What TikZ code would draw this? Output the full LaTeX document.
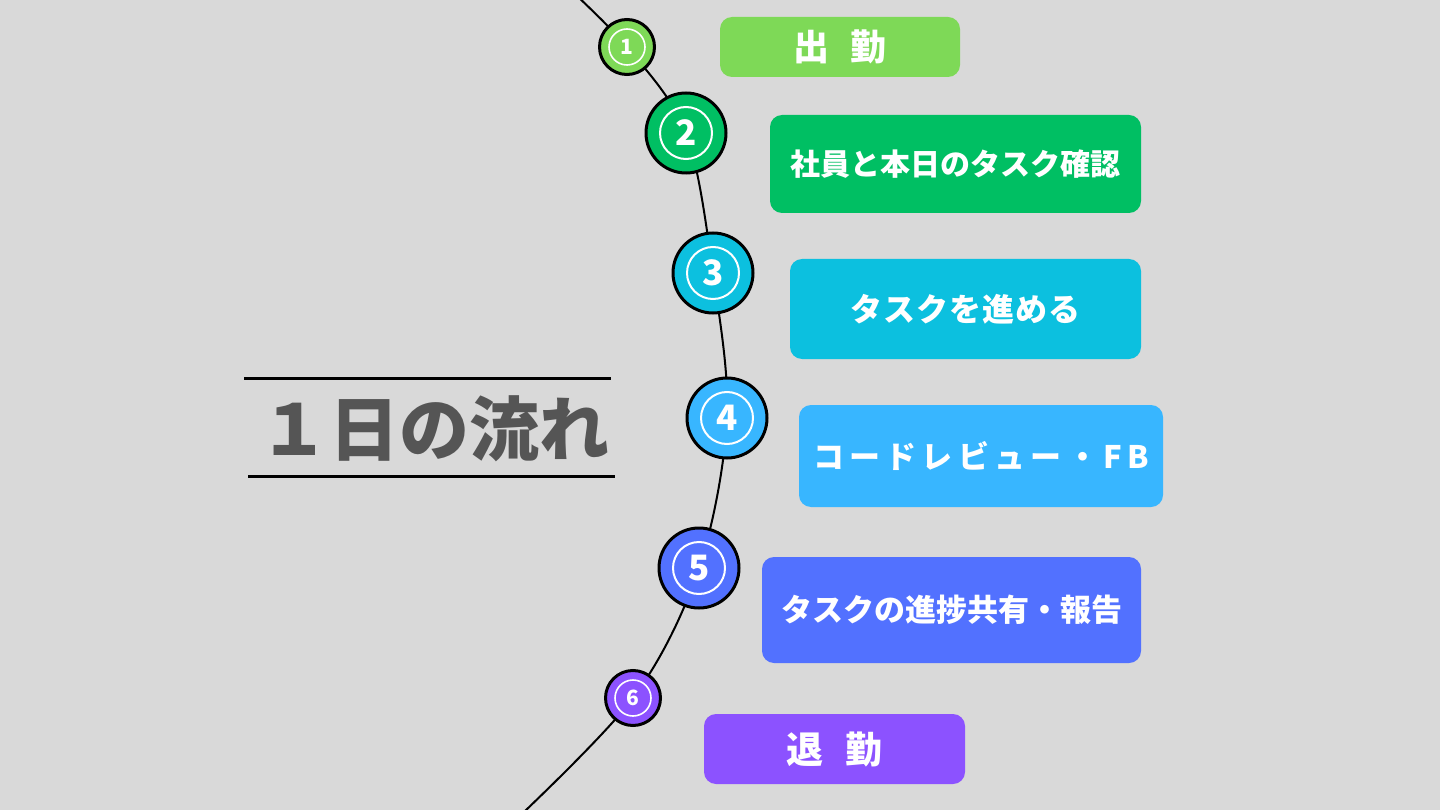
\documentclass[tikz,border=0pt]{standalone}
\usepackage{fontspec}
\setmainfont{Noto Sans CJK JP}
\usetikzlibrary{positioning,backgrounds}
\definecolor{bg}{HTML}{D9D9D9}
\definecolor{titlegray}{HTML}{555555}
\definecolor{cA}{HTML}{7ED957}
\definecolor{cB}{HTML}{00BF63}
\definecolor{cC}{HTML}{0CC0DF}
\definecolor{cD}{HTML}{38B6FF}
\definecolor{cE}{HTML}{5271FF}
\definecolor{cF}{HTML}{8C52FF}

\begin{document}
\begin{tikzpicture}[x=1pt, y=1pt,
  box/.style={rounded corners=12pt, fill=#1, text=white, inner sep=0pt,
    font=\bfseries\fontsize{31}{31}\selectfont},
  numbig/.style={circle, draw=black, line width=3pt, fill=#1, minimum size=80pt,
    inner sep=0pt, text=white, font=\bfseries\fontsize{35}{35}\selectfont,
    path picture={\draw[white, line width=2pt] (path picture bounding box.center) circle[radius=26pt];}},
  numsmall/.style={circle, draw=black, line width=3pt, fill=#1, minimum size=55pt,
    inner sep=0pt, text=white, font=\bfseries\fontsize{21}{21}\selectfont,
    path picture={\draw[white, line width=1.6pt] (path picture bounding box.center) circle[radius=18pt];}},
  flow/.style={line width=2pt}]
\useasboundingbox (0,0) rectangle (1440,-810);

% title
\node[text=titlegray, font=\bfseries\fontsize{70}{70}\selectfont] (title) at (434,-429) {１日の流れ};
\coordinate (ruleA1) at (244,-378);
\coordinate (ruleA2) at (611,-378);
\coordinate (ruleB1) at (248,-476);
\coordinate (ruleB2) at (615,-476);
\draw[line width=3pt] (ruleA1) -- (ruleA2);
\draw[line width=3pt] (ruleB1) -- (ruleB2);

% steps on the arc
\node[numsmall=cA] (n1) at (627,-47) {1};
\node[numbig=cB] (n2) at (686,-133) {2};
\node[numbig=cC] (n3) at (713,-273) {3};
\node[numbig=cD] (n4) at (727,-418) {4};
\node[numbig=cE] (n5) at (699,-568) {5};
\node[numsmall=cF] (n6) at (633,-698) {6};
\coordinate (arctop) at (562,18);
\coordinate (arcbot) at (505,-830);

% labels
\node[box=cA, minimum width=240pt, minimum height=60pt, font=\bfseries\fontsize{36}{36}\selectfont] (s1) at (840,-47) {出\hspace{0.6em}勤};
\node[box=cB, minimum width=371pt, minimum height=98pt, font=\bfseries\fontsize{30}{30}\selectfont] (s2) at (955.5,-164) {社員と本日のタスク確認};
\node[box=cC, minimum width=351pt, minimum height=100pt, font=\bfseries\fontsize{32}{32}\selectfont\addfontfeature{LetterSpace=3}] (s3) at (965.5,-309) {タスクを進める};
\node[box=cD, minimum width=364pt, minimum height=102pt, font=\bfseries\fontsize{31}{31}\selectfont\addfontfeature{LetterSpace=17}] (s4) at (981,-456) {コードレビュー・FB};
\node[box=cE, minimum width=379pt, minimum height=106pt] (s5) at (951.5,-610) {タスクの進捗共有・報告};
\node[box=cF, minimum width=261pt, minimum height=70pt, font=\bfseries\fontsize{37}{37}\selectfont] (s6) at (834.5,-749) {退\hspace{0.6em}勤};

% the arc, behind the steps
\begin{pgfonlayer}{background}
\fill[bg] (0,0) rectangle (1440,-810);
\draw[flow] plot[smooth, tension=0.55] coordinates {(arctop) (n1.center) (n2.center) (n3.center) (n4.center) (n5.center) (n6.center) (arcbot)};
\end{pgfonlayer}
\end{tikzpicture}
\end{document}
